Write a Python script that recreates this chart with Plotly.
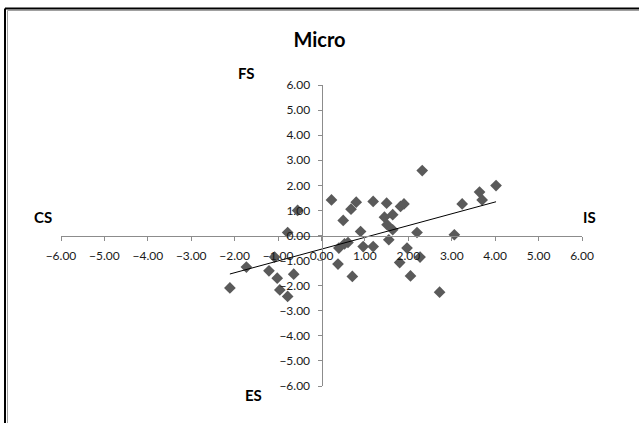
import numpy as np
import plotly.graph_objects as go

# ---- data ----
x_vals = [-2.11, -1.73, -1.21, -1.08, -1.02, -0.96, -0.78, -0.64, -0.78, -0.55,
          0.23, 0.38, 0.40, 0.50, 0.53, 0.61, 0.68, 0.71, 0.80, 0.90,
          0.96, 1.19, 1.19, 1.50, 1.45, 1.51, 1.55, 1.64, 1.64, 1.82,
          1.90, 1.80, 1.97, 2.05, 2.20, 2.27, 2.32, 2.72, 3.06, 3.24,
          3.64, 3.70, 4.02]
y_vals = [-2.09, -1.26, -1.41, -0.86, -1.70, -2.17, -2.43, -1.54, 0.12, 1.00,
          1.42, -1.14, -0.50, 0.60, -0.33, -0.28, 1.05, -1.63, 1.33, 0.16,
          -0.44, -0.44, 1.36, 1.29, 0.73, 0.43, -0.17, 0.83, 0.23, 1.16,
          1.26, -1.08, -0.50, -1.61, 0.12, -0.86, 2.59, -2.26, 0.03, 1.26,
          1.73, 1.42, 1.99]
tick_vals = [-6, -5, -4, -3, -2, -1, 0, 1, 2, 3, 4, 5, 6]
title_text = "Micro"
quadrant_labels = ["FS", "ES", "CS", "IS"]

# ---- geometry ----
W, H = 639, 423
ML, MR, MT, MB = 61, 57, 85, 37
PW, PH = W - ML - MR, H - MT - MB

def px2paper(px, py):
    return (px - ML) / PW, (H - MB - py) / PH

# linear trend line (least squares), spanning data x range
xa = np.array(x_vals); ya = np.array(y_vals)
slope, icpt = np.polyfit(xa, ya, 1)
tx = np.array([xa.min(), xa.max()])
ty = slope * tx + icpt

fig = go.Figure()
fig.add_trace(go.Scatter(
    x=x_vals, y=y_vals, mode="markers",
    marker=dict(symbol="diamond", size=9, color="#5a5a5a", line=dict(width=0)),
    showlegend=False, hoverinfo="skip"))
fig.add_trace(go.Scatter(
    x=tx, y=ty, mode="lines", line=dict(color="black", width=1),
    showlegend=False, hoverinfo="skip"))

axis_common = dict(
    range=[-6, 6], tickvals=tick_vals, tickformat=".2f",
    showgrid=False, zeroline=False, showline=True, linecolor="#8c8c8c",
    linewidth=1, ticks="outside", ticklen=4, tickcolor="#8c8c8c",
    tickfont=dict(family="Lato", size=12, color="#1a1a1a"),
    anchor="free", position=0.5, fixedrange=True)

fig.update_layout(
    width=W, height=H,
    margin=dict(l=ML, r=MR, t=MT, b=MB, pad=0),
    paper_bgcolor="white", plot_bgcolor="white",
    xaxis=dict(axis_common, ticklabelstandoff=5),
    yaxis=dict(axis_common, ticklabelstandoff=5),
    title=dict(text="<b>" + title_text + "</b>", x=0.5, xref="container",
               y=1 - 40 / H, yref="container", xanchor="center", yanchor="middle",
               font=dict(family="Lato", size=20, color="black")),
)

label_pos = {"FS": (246, 73), "ES": (253, 395), "CS": (43, 217), "IS": (589, 217)}
for lab in quadrant_labels:
    px, py = label_pos[lab]
    ax_, ay_ = px2paper(px, py)
    fig.add_annotation(x=ax_, y=ay_, xref="paper", yref="paper", text="<b>" + lab + "</b>",
                       showarrow=False, xanchor="center", yanchor="middle",
                       font=dict(family="Lato", size=15, color="black"))

# chart frame (Excel-style border, partially visible)
x_l1, _ = px2paper(5, 0)
x_l2, _ = px2paper(7.5, 0)
_, y_t1 = px2paper(0, 8.5)
_, y_t2 = px2paper(0, 10.5)
_, y_bot = px2paper(0, H + 5)
x_r, _ = px2paper(W + 5, 0)
fig.add_shape(type="line", xref="paper", yref="paper", x0=x_l1, x1=x_l1, y0=y_bot, y1=y_t1,
              line=dict(color="black", width=2))
fig.add_shape(type="line", xref="paper", yref="paper", x0=x_l1, x1=x_r, y0=y_t1, y1=y_t1,
              line=dict(color="black", width=2))
fig.add_shape(type="line", xref="paper", yref="paper", x0=x_l2, x1=x_l2, y0=y_bot, y1=y_t2,
              line=dict(color="#a0a0a0", width=1))
fig.add_shape(type="line", xref="paper", yref="paper", x0=x_l2, x1=x_r, y0=y_t2, y1=y_t2,
              line=dict(color="#a0a0a0", width=1))

fig.write_html("out.html")
